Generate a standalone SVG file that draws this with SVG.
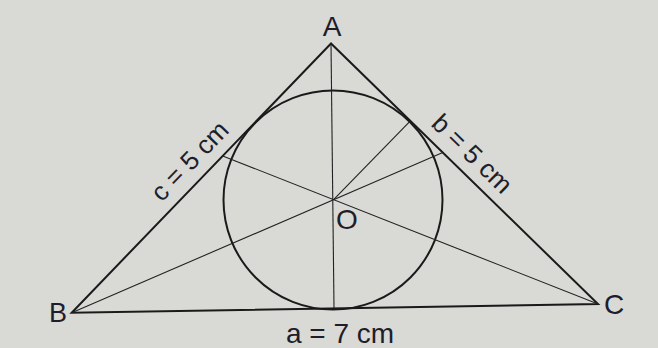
<svg xmlns="http://www.w3.org/2000/svg" width="658" height="348" viewBox="0 0 658 348">
<style>
.lbl{font-family:"Liberation Sans","DejaVu Sans",sans-serif;fill:#1e1e2a;}
.edge{stroke:#1a1a1a;stroke-width:2;fill:none;stroke-linejoin:miter;}
.thin{stroke:#222;stroke-width:1.1;fill:none;}
</style>
<rect x="0" y="0" width="658" height="348" fill="#d9d9d6"/>
<g id="triangle">
<polygon points="331,43.5 71.7,312.7 598,304" fill="#eeeeec" class="edge"/>
</g>
<g id="incircle">
<circle cx="333" cy="200" r="109.5" class="edge" stroke-width="1.8"/>
</g>
<g id="connectors">
<line x1="331" y1="43.5" x2="334" y2="308" class="thin"/>
<line x1="71.7" y1="312.7" x2="442.8" y2="152.6" class="thin"/>
<line x1="598" y1="304" x2="222.7" y2="155.9" class="thin"/>
<line x1="333.6" y1="199.7" x2="410.4" y2="120.9" class="thin"/>
</g>
<g id="A"><text class="lbl" x="332" y="36" font-size="28" text-anchor="middle">A</text></g>
<g id="B"><text class="lbl" x="49" y="322" font-size="27">B</text></g>
<g id="C"><text class="lbl" x="604" y="314" font-size="28">C</text></g>
<g id="O"><text class="lbl" x="336" y="229" font-size="28">O</text></g>
<g id="label-c"><text class="lbl" font-size="26" text-anchor="middle" transform="translate(196,167) rotate(-46.1)">c = 5 cm</text></g>
<g id="label-b"><text class="lbl" font-size="26" text-anchor="middle" transform="translate(466,160) rotate(44.3)">b = 5 cm</text></g>
<g id="label-a"><text class="lbl" x="340" y="343" font-size="28" text-anchor="middle">a = 7 cm</text></g>
</svg>
